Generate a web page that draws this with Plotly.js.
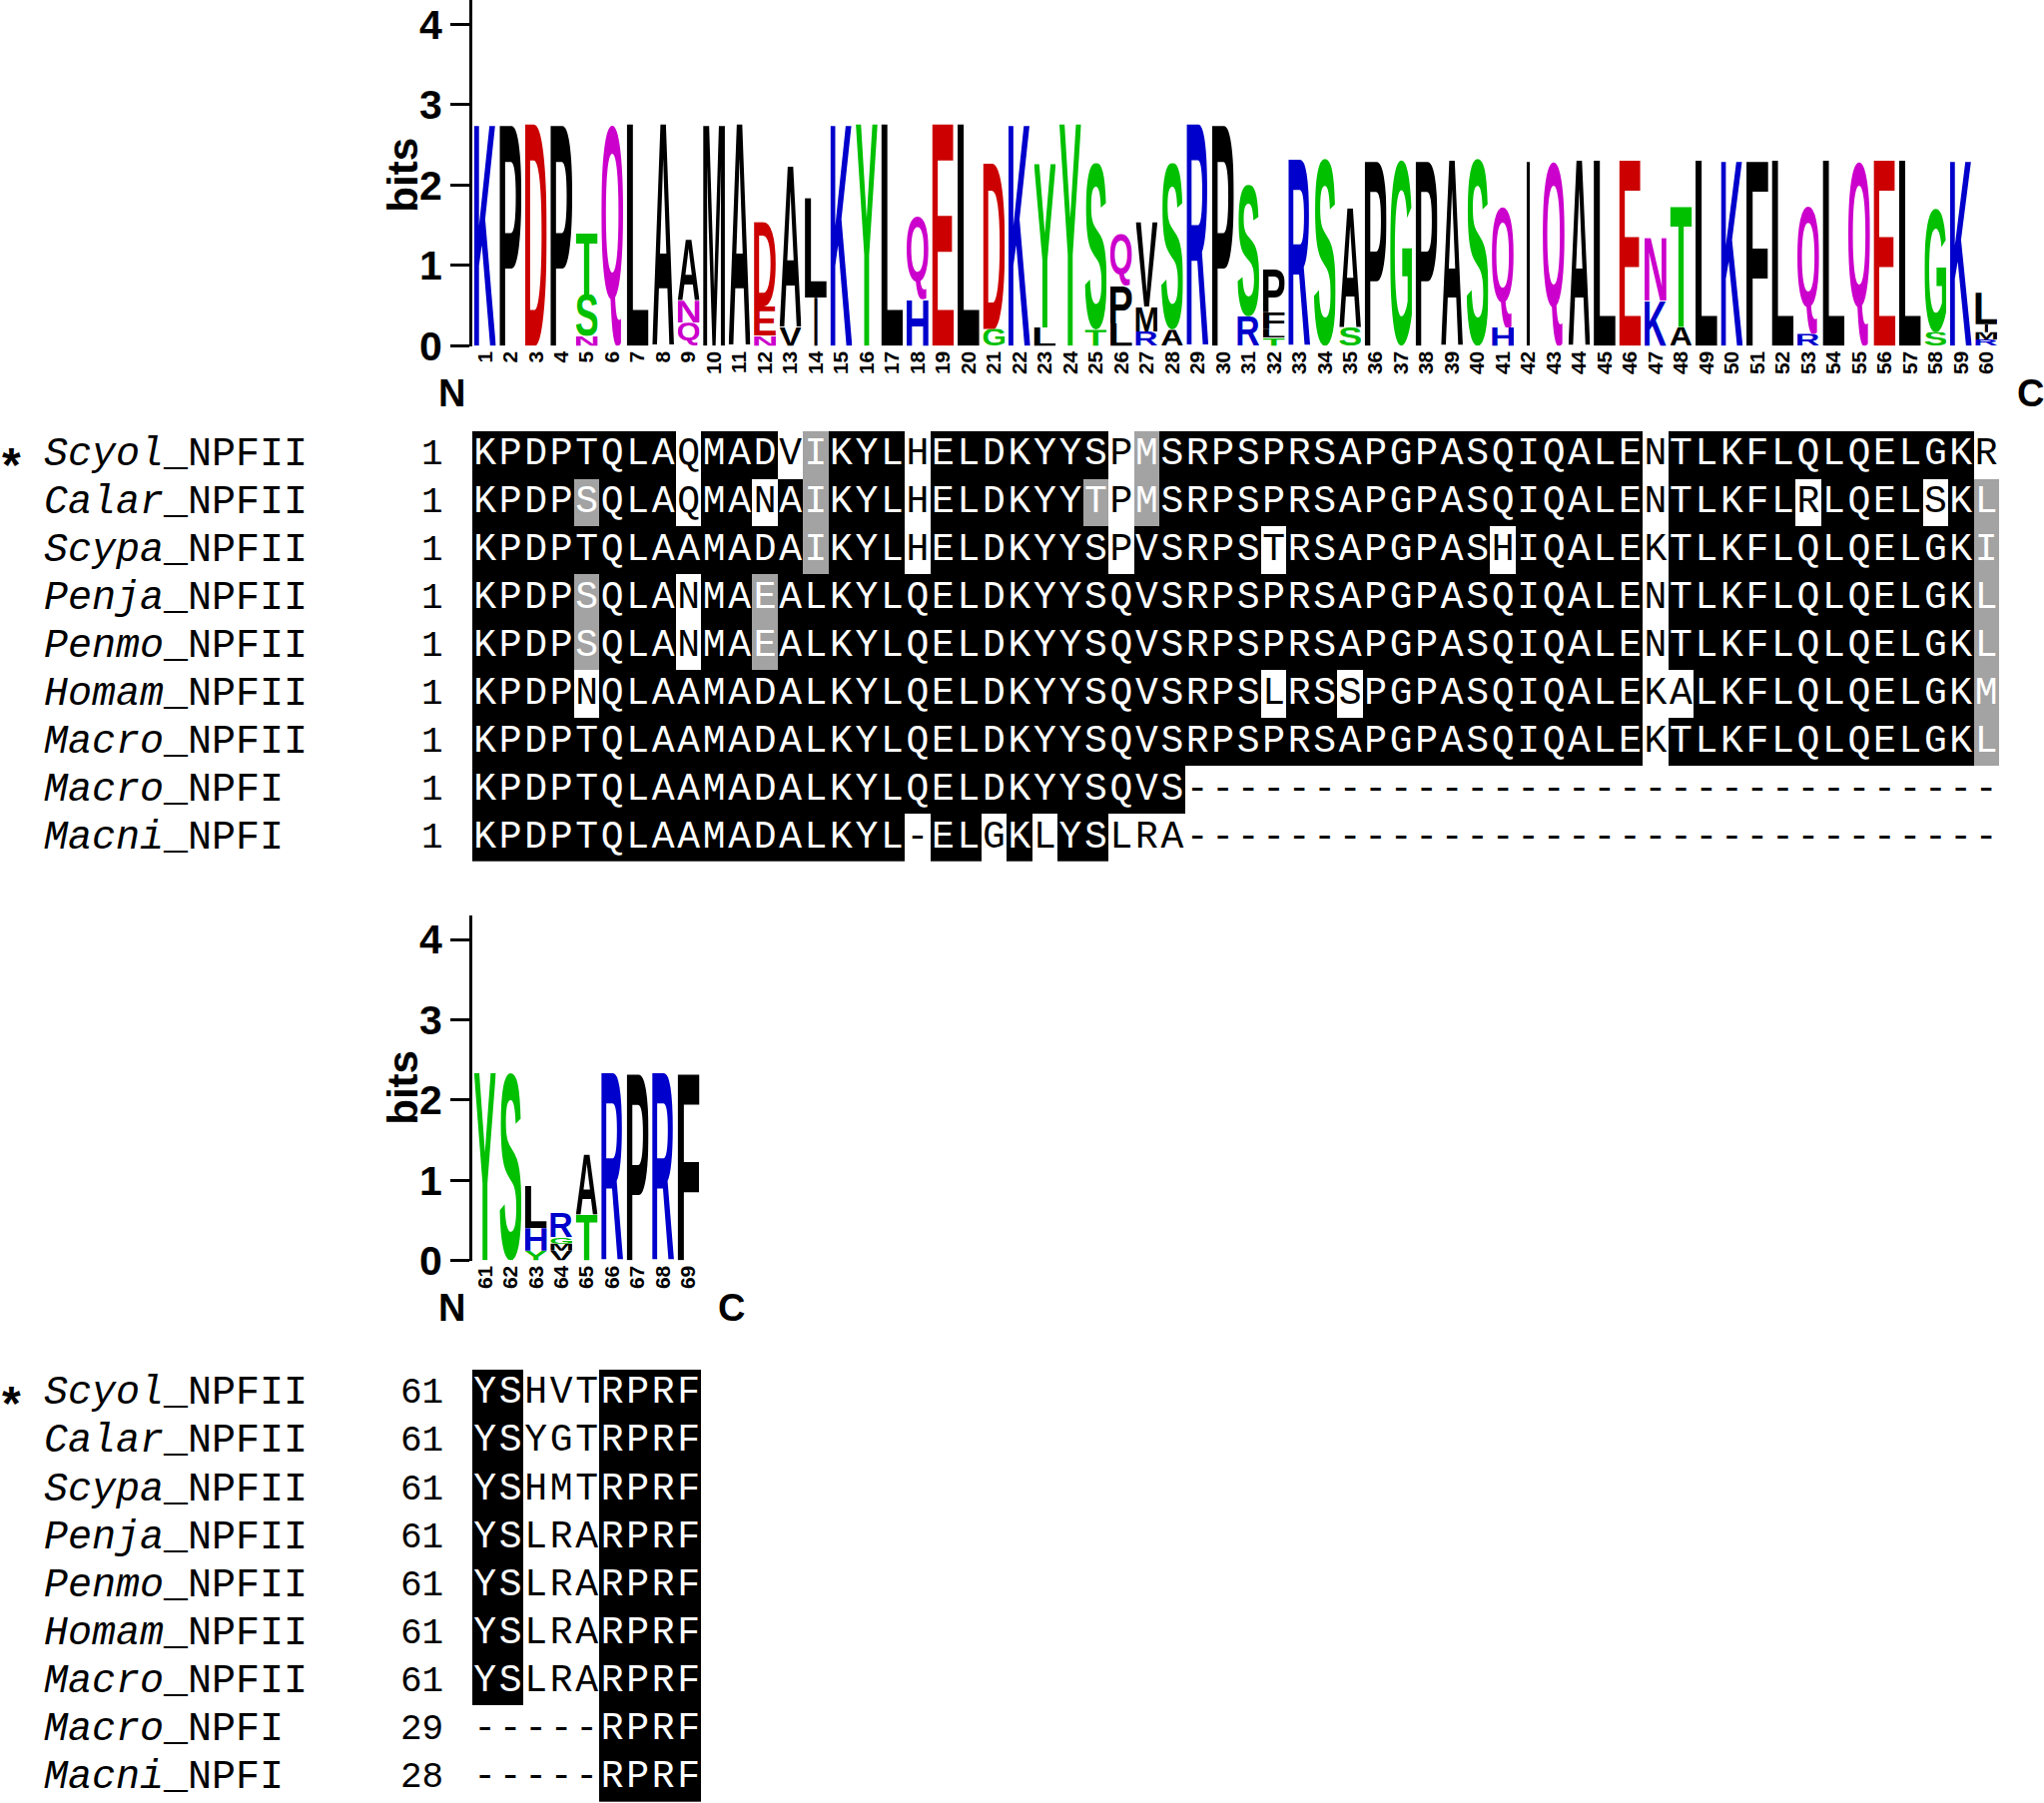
<!DOCTYPE html>
<html>
<head>
<meta charset="utf-8">
<script src="https://cdn.plot.ly/plotly-3.0.1.min.js"></script>
<style>
  html, body { margin: 0; padding: 0; background: #fff; }
  #chart { width: 2047px; height: 1806px; }
</style>
</head>
<body>
<div id="chart"></div>
<script>
// Sequence logo, positions 1-60: letters of each stack from bottom to top, heights in bits
let logo1Start = 1
let logo1Letters = ["K","P","D","P","NST","Q","L","A","QNA","M",
                    "A","NED","VA","IL","K","Y","L","HQ","E","L",
                    "GD","K","LY","Y","TS","LPQ","RMV","AS","R","P",
                    "RS","TLFP","R","S","SA","P","G","P","A","S",
                    "HQ","I","Q","A","L","E","KN","AT","L","K",
                    "F","L","RQ","L","Q","E","L","SG","K","RMIL"]
let logo1Bits = [[2.76],[2.76],[2.76],[2.76],[0.12,0.52,0.76],[2.76],[2.76],[2.76],[0.29,0.27,0.76],[2.76],
                 [2.76],[0.13,0.36,1.05],[0.23,2.0],[0.6,1.24],[2.76],[2.76],[2.76],[0.58,1.03],[2.76],[2.76],
                 [0.21,2.06],[2.76],[0.23,2.04],[2.76],[0.2,2.07],[0.28,0.47,0.65],[0.18,0.31,1.05],[0.2,2.07],[2.76],[2.76],
                 [0.37,1.63],[0.1,0.11,0.21,0.55],[2.32],[2.33],[0.23,1.48],[2.31],[2.31],[2.31],[2.31],[2.33],
                 [0.23,1.51],[2.31],[2.31],[2.31],[2.31],[2.31],[0.56,0.78],[0.23,1.51],[2.31],[2.31],
                 [2.31],[2.31],[0.15,1.59],[2.31],[2.31],[2.31],[2.31],[0.17,1.54],[2.31],[0.08,0.09,0.1,0.39]]

// Sequence logo, positions 61-69
let logo2Start = 61
let logo2Letters = ["Y","S","YHL","VMGR","TA","R","P","R","F"]
let logo2Bits = [[2.34],[2.34],[0.12,0.28,0.53],[0.12,0.09,0.08,0.30],[0.57,0.75],[2.34],[2.34],[2.34],[2.34]]

// Alignment
let species  = ["Scyol","Calar","Scypa","Penja","Penmo","Homam","Macro","Macro","Macni"]
let peptide  = ["NPFII","NPFII","NPFII","NPFII","NPFII","NPFII","NPFII","NPFI","NPFI"]
let marked   = [true,false,false,false,false,false,false,false,false]
let start1   = [1,1,1,1,1,1,1,1,1]
let start2   = [61,61,61,61,61,61,61,29,28]

let seq1 = [
  "KPDPTQLAQMADVIKYLHELDKYYSPMSRPSPRSAPGPASQIQALENTLKFLQLQELGKR",
  "KPDPSQLAQMANAIKYLHELDKYYTPMSRPSPRSAPGPASQIQALENTLKFLRLQELSKL",
  "KPDPTQLAAMADAIKYLHELDKYYSPVSRPSTRSAPGPASHIQALEKTLKFLQLQELGKI",
  "KPDPSQLANMAEALKYLQELDKYYSQVSRPSPRSAPGPASQIQALENTLKFLQLQELGKL",
  "KPDPSQLANMAEALKYLQELDKYYSQVSRPSPRSAPGPASQIQALENTLKFLQLQELGKL",
  "KPDPNQLAAMADALKYLQELDKYYSQVSRPSLRSSPGPASQIQALEKALKFLQLQELGKM",
  "KPDPTQLAAMADALKYLQELDKYYSQVSRPSPRSAPGPASQIQALEKTLKFLQLQELGKL",
  "KPDPTQLAAMADALKYLQELDKYYSQVS" + "--------" + "--------" + "--------" + "--------",
  "KPDPTQLAAMADALKYL-ELGKLYSLRA" + "--------" + "--------" + "--------" + "--------"
]
let seq2 = ["YSHVTRPRF","YSYGTRPRF","YSHMTRPRF","YSLRARPRF","YSLRARPRF","YSLRARPRF","YSLRARPRF","-----RPRF","-----RPRF"]

// cell shading: B = identical (black), g = similar (grey), w = none (white)
let shade1 = [
  "BBBBBBBBwB BBwgBBBwBB BBBBBwgBBB BBBBBBBBBB BBBBBBwBBB BBBBBBBBBw",
  "BBBBgBBBwB BwBgBBBwBB BBBBgwgBBB BBBBBBBBBB BBBBBBwBBB BBwBBBBwBg",
  "BBBBBBBBBB BBBgBBBwBB BBBBBwBBBB BwBBBBBBBB wBBBBBwBBB BBBBBBBBBg",
  "BBBBgBBBwB BgBBBBBBBB BBBBBBBBBB BBBBBBBBBB BBBBBBwBBB BBBBBBBBBg",
  "BBBBgBBBwB BgBBBBBBBB BBBBBBBBBB BBBBBBBBBB BBBBBBwBBB BBBBBBBBBg",
  "BBBBwBBBBB BBBBBBBBBB BBBBBBBBBB BwBBwBBBBB BBBBBBwwBB BBBBBBBBBg",
  "BBBBBBBBBB BBBBBBBBBB BBBBBBBBBB BBBBBBBBBB BBBBBBwBBB BBBBBBBBBg",
  "BBBBBBBBBB BBBBBBBBBB BBBBBBBBww wwwwwwwwww wwwwwwwwww wwwwwwwwww",
  "BBBBBBBBBB BBBBBBBwBB wBwBBwwwww wwwwwwwwww wwwwwwwwww wwwwwwwwww"
]
let shade2 = ["BBwwwBBBB","BBwwwBBBB","BBwwwBBBB","BBwwwBBBB","BBwwwBBBB","BBwwwBBBB","BBwwwBBBB","wwwwwBBBB","wwwwwBBBB"]

const W = 2047, H = 1806

function residueColor(ch) {
    if ("KRH".includes(ch)) return "#0000cc"
    if ("DE".includes(ch)) return "#cc0000"
    if ("NQ".includes(ch)) return "#cc00cc"
    if ("STYGC".includes(ch)) return "#00c000"
    return "#000000"
}

// glyph as svg image, cropped to its ink box so it can be stretched
const ctx = document.createElement("canvas").getContext("2d")
ctx.font = "bold 200px 'Liberation Sans'"
function glyphSrc(ch) {
    let m = ctx.measureText(ch)
    let l = m.actualBoundingBoxLeft, r = m.actualBoundingBoxRight
    let a = m.actualBoundingBoxAscent, d = m.actualBoundingBoxDescent
    let w = l + r, h = a + d
    let svg = `<svg xmlns="http://www.w3.org/2000/svg" width="${w}" height="${h}" viewBox="${-l} ${-a} ${w} ${h}" preserveAspectRatio="none">` +
              `<text x="0" y="0" fill="${residueColor(ch)}" font-family="Liberation Sans" font-weight="bold" font-size="200">${ch}</text></svg>`
    return "data:image/svg+xml;charset=utf-8," + encodeURIComponent(svg)
}

function logoImages(letters, bits, start, xref, yref) {
    let imgs = []
    letters.forEach((stack, i) => {
        let pos = start + i
        let base = 0
        stack.split("").forEach((ch, k) => {
            let h = bits[i][k]
            let w = ch == "I" ? 0.14 : 0.86
            imgs.push({
                source: glyphSrc(ch), xref: xref, yref: yref,
                x: pos - w / 2, y: base, sizex: w, sizey: h,
                xanchor: "left", yanchor: "bottom", sizing: "stretch", layer: "above"
            })
            base += h
        })
    })
    return imgs
}

function logoTrace(bits, start, xa, ya) {
    let x = bits.map((b, i) => start + i)
    let y = bits.map(b => b.reduce((s, v) => s + v, 0))
    return { type: "bar", x: x, y: y, xaxis: xa, yaxis: ya, marker: { color: "rgba(0,0,0,0)" }, hoverinfo: "skip", showlegend: false }
}

function alignmentTraces(seqs, shades, start, xa, ya) {
    let z = shades.map(s => s.replace(/ /g, "").split("").map(c => c == "B" ? 2 : (c == "g" ? 1 : 0)))
    let cols = z[0].map((v, j) => start + j)
    let rows = seqs.map((s, r) => r)
    let tx = [], ty = [], tt = [], tc = []
    seqs.forEach((s, r) => {
        s.split("").forEach((ch, j) => {
            tx.push(start + j); ty.push(r); tt.push(ch)
            tc.push(z[r][j] == 0 ? "#000000" : "#ffffff")
        })
    })
    return [
        { type: "heatmap", x: cols, y: rows, z: z, zmin: 0, zmax: 2, showscale: false,
          colorscale: [[0, "#ffffff"], [0.5, "#a3a3a3"], [1, "#000000"]],
          xaxis: xa, yaxis: ya, hoverinfo: "skip" },
        { type: "scatter", mode: "text", x: tx, y: ty, text: tt, textposition: "middle center",
          textfont: { family: "Liberation Mono", size: 38, color: tc },
          xaxis: xa, yaxis: ya, hoverinfo: "skip", showlegend: false, cliponaxis: false }
    ]
}

let traces = [
    logoTrace(logo1Bits, logo1Start, "x", "y"),
    ...alignmentTraces(seq1, shade1, 1, "x2", "y2"),
    logoTrace(logo2Bits, logo2Start, "x3", "y3"),
    ...alignmentTraces(seq2, shade2, 61, "x4", "y4")
]

let pos1 = logo1Letters.map((s, i) => logo1Start + i)
let pos2 = logo2Letters.map((s, i) => logo2Start + i)

function logoX(pos, domain, anchor) {
    return {
        domain: domain, anchor: anchor, range: [pos[0] - 0.5, pos[pos.length - 1] + 0.5],
        tickmode: "array", tickvals: pos, ticktext: pos.map(String), tickangle: -90,
        tickfont: { family: "Liberation Sans", size: 21, weight: "bold", color: "#000" },
        ticks: "", showline: false, showgrid: false, zeroline: false, fixedrange: true
    }
}
function logoY(domain, anchor) {
    return {
        domain: domain, anchor: anchor, range: [0, 4.3],
        tickmode: "array", tickvals: [0, 1, 2, 3, 4],
        tickfont: { family: "Liberation Sans", size: 41, weight: "bold", color: "#000" },
        ticks: "outside", ticklen: 19, tickwidth: 3, tickcolor: "#000",
        showline: true, linewidth: 3, linecolor: "#000",
        showgrid: false, zeroline: false, fixedrange: true
    }
}
function hiddenAxis(domain, anchor, range) {
    return { domain: domain, anchor: anchor, range: range, visible: false, showgrid: false, zeroline: false, fixedrange: true }
}

let annotations = []
let boldFont = size => ({ family: "Liberation Sans", size: size, weight: "bold", color: "#000" })
function logoLabels(ya, yBits, yNC, xN, xC) {
    annotations.push({ text: "bits", xref: "paper", x: 404 / W, xanchor: "center", yref: ya, y: yBits, yanchor: "middle",
                       textangle: -90, showarrow: false, font: boldFont(42) })
    annotations.push({ text: "N", xref: "paper", x: xN / W, xanchor: "center", yref: "paper", y: 1 - yNC / H, yanchor: "middle",
                       showarrow: false, font: boldFont(38) })
    annotations.push({ text: "C", xref: "paper", x: xC / W, xanchor: "center", yref: "paper", y: 1 - yNC / H, yanchor: "middle",
                       showarrow: false, font: boldFont(38) })
}
logoLabels("y", 2.12, 394, 452, 2033)
logoLabels("y3", 2.15, 1310, 452, 732)

function rowLabels(ya, starts) {
    species.forEach((sp, i) => {
        annotations.push({ text: "<i>" + sp + "</i>_" + peptide[i], xref: "paper", x: 42 / W, xanchor: "left",
                           yref: ya, y: i, yanchor: "middle", showarrow: false,
                           font: { family: "Liberation Mono", size: 40, color: "#000" } })
        annotations.push({ text: String(starts[i]), xref: "paper", x: 446 / W, xanchor: "right",
                           yref: ya, y: i, yanchor: "middle", showarrow: false,
                           font: { family: "Liberation Mono", size: 36, color: "#000" } })
        if (marked[i]) {
            annotations.push({ text: "*", xref: "paper", x: 11 / W, xanchor: "center", yref: ya, y: i, yanchor: "middle",
                               yshift: -10, showarrow: false, font: boldFont(48) })
        }
    })
}
rowLabels("y2", start1)
rowLabels("y4", start2)

let x1Dom = [473 / W, 2002 / W]
let x2Dom = [473 / W, 702.3 / W]

let layout = {
    width: W, height: H,
    margin: { l: 0, r: 0, t: 0, b: 0 },
    paper_bgcolor: "#ffffff", plot_bgcolor: "rgba(0,0,0,0)",
    showlegend: false, barmode: "overlay",
    font: { family: "Liberation Sans", color: "#000" },
    xaxis: logoX(pos1, x1Dom, "y"),
    yaxis: logoY([1 - 346.5 / H, 1], "x"),
    xaxis2: hiddenAxis(x1Dom, "y2", [0.5, 60.5]),
    yaxis2: hiddenAxis([1 - 863 / H, 1 - 431.7 / H], "x2", [8.5, -0.5]),
    xaxis3: logoX(pos2, x2Dom, "y3"),
    yaxis3: logoY([1 - 1262.5 / H, 1 - 917 / H], "x3"),
    xaxis4: hiddenAxis(x2Dom, "y4", [60.5, 69.5]),
    yaxis4: hiddenAxis([1 - 1805 / H, 1 - 1371.7 / H], "x4", [8.5, -0.5]),
    images: [
        ...logoImages(logo1Letters, logo1Bits, logo1Start, "x", "y"),
        ...logoImages(logo2Letters, logo2Bits, logo2Start, "x3", "y3")
    ],
    annotations: annotations
}

Plotly.newPlot("chart", traces, layout, { staticPlot: true })
</script>
</body>
</html>
